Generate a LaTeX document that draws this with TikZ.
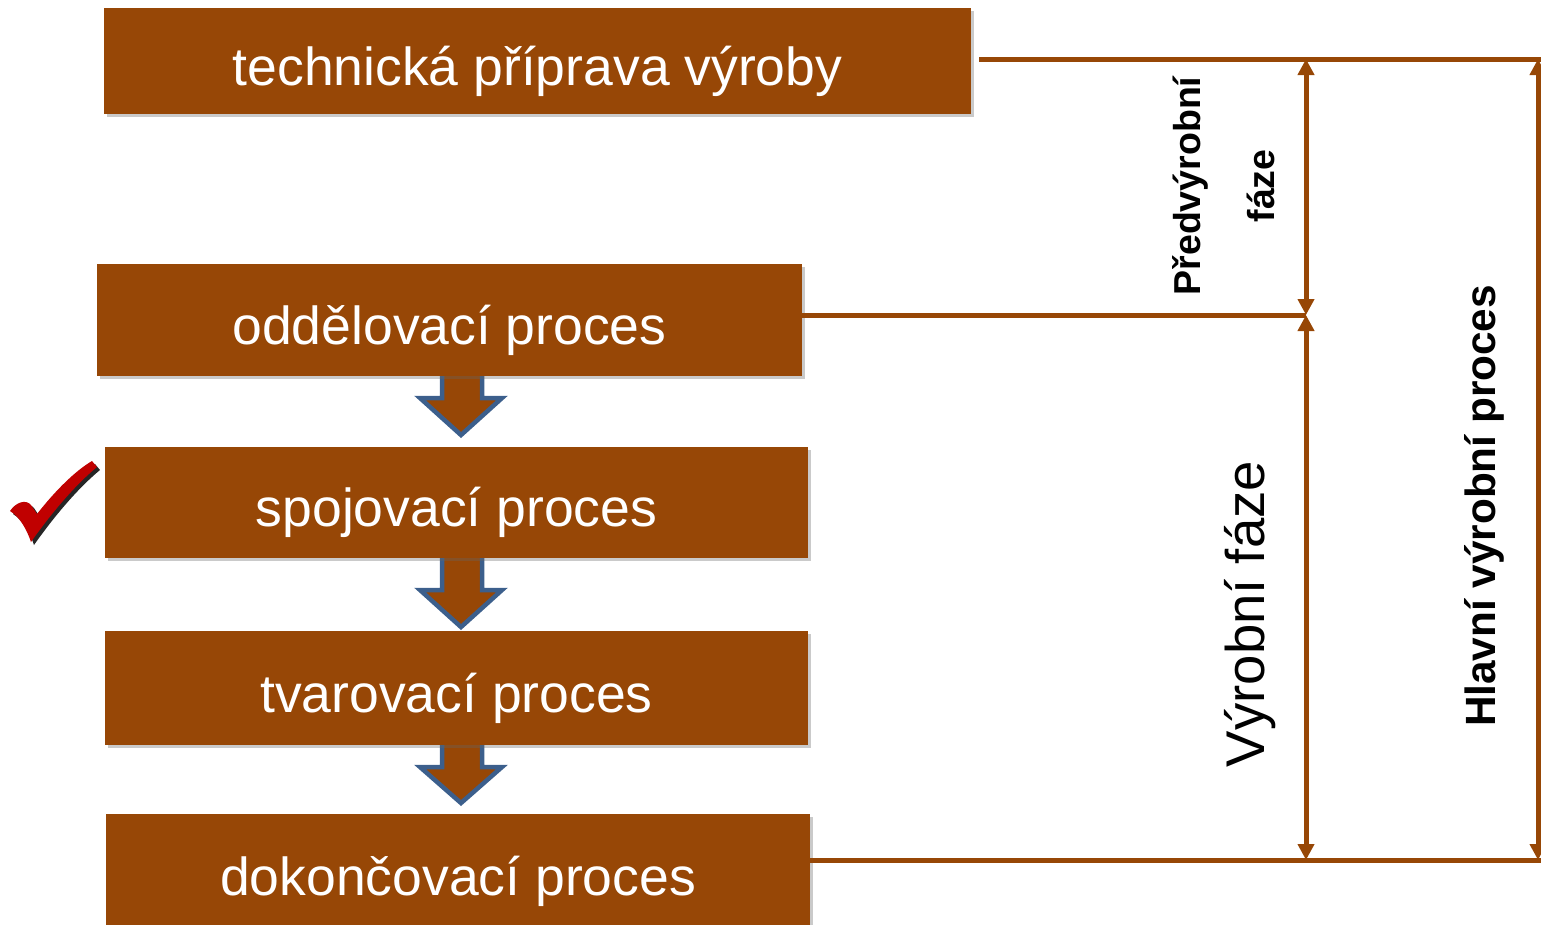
\documentclass[tikz,border=0pt]{standalone}
\usepackage{fontspec}
\setmainfont{Liberation Sans}
\usetikzlibrary{arrows.meta,shadows,calc}
\definecolor{boxbrown}{RGB}{151,71,6}
\definecolor{arrowblue}{RGB}{60,95,140}
\definecolor{checkred}{RGB}{192,0,0}
\tikzset{
  procbox/.style={fill=boxbrown, draw=none, text=white, font=\fontsize{53.5}{60}\selectfont, inner sep=0pt,
    text height=48pt, text depth=0pt,
    drop shadow={shadow xshift=3pt, shadow yshift=-3pt, opacity=0.35, fill=black!60}},
  dimline/.style={draw=boxbrown, line width=5pt},
  dimarrow/.style={dimline, {Triangle[width=16pt,length=16pt]}-{Triangle[width=16pt,length=16pt]}},
  blockarrow/.style={fill=boxbrown, draw=arrowblue, line width=4.5pt, line join=miter},
  sidelabel/.style={text=black, rotate=90, inner sep=0pt, align=center},
}
\begin{document}
\begin{tikzpicture}[x=1pt,y=-1pt]
\useasboundingbox (0,0) rectangle (1541,924);

% block arrows (drawn first, tops hidden under boxes)
\filldraw[blockarrow] (442,370) -- (442,398) -- (420,398) -- (461,435) -- (502,398) -- (482,398) -- (482,370);
\filldraw[blockarrow] (442,552) -- (442,590) -- (420,590) -- (461,627) -- (502,590) -- (482,590) -- (482,552);
\filldraw[blockarrow] (442,739) -- (442,767) -- (420,767) -- (461,803) -- (502,767) -- (482,767) -- (482,739);

% process boxes
\node[procbox, minimum width=867pt, minimum height=106pt] (b1) at (537.5,61) {technická příprava výroby};
\node[procbox, minimum width=705pt, minimum height=112pt] (b2) at (449.5,320) {oddělovací proces};
\node[procbox, minimum width=703pt, minimum height=111pt] (b3) at (456.5,502.5) {spojovací proces};
\node[procbox, minimum width=703pt, minimum height=114pt] (b4) at (456.5,688) {tvarovací proces};
\node[procbox, minimum width=704pt, minimum height=114pt] (b5) at (458,871) {dokončovací proces};

% check mark
\fill[black, opacity=0.85] ([shift={(3,3)}]10,511) .. controls ([shift={(3,3)}]16,502) and ([shift={(3,3)}]26,499) .. ([shift={(3,3)}]31,505) -- ([shift={(3,3)}]37,514) .. controls ([shift={(3,3)}]55,491) and ([shift={(3,3)}]75,471) .. ([shift={(3,3)}]92,461) -- ([shift={(3,3)}]97,467) .. controls ([shift={(3,3)}]74,486) and ([shift={(3,3)}]50,515) .. ([shift={(3,3)}]31,542) .. controls ([shift={(3,3)}]27,530) and ([shift={(3,3)}]20,517) .. ([shift={(3,3)}]10,511) -- cycle;
\fill[checkred] (10,511) .. controls (16,502) and (26,499) .. (31,505) -- (37,514) .. controls (55,491) and (75,471) .. (92,461) -- (97,467) .. controls (74,486) and (50,515) .. (31,542) .. controls (27,530) and (20,517) .. (10,511) -- cycle;

% dimension coordinates
\coordinate (pa) at (1306,59);
\coordinate (pb) at (1306,315);
\coordinate (pc) at (1306,860);
\coordinate (qa) at (1538,59);
\coordinate (qc) at (1538,860);
\coordinate (ea) at (1541,59);
\coordinate (ec) at (1541,860);

\draw[dimline] ([xshift=8pt,yshift=2pt]b1.east) -- (ea);
\draw[dimline] ([yshift=5pt]b2.east) -- (pb);
\draw[dimline] ([yshift=11pt]b5.east) -- (ec);

\draw[dimarrow] (pa) -- (pb);
\draw[dimarrow] (pb) -- (pc);
\draw[dimarrow] (qa) -- (qc);

% side labels
\node[sidelabel, font=\bfseries\fontsize{37.5}{74}\selectfont] (pre) at (1224,186) {Předvýrobní\\fáze};
\node[sidelabel, font=\fontsize{54.5}{60}\selectfont] (vyr) at (1250,614) {Výrobní fáze};
\node[sidelabel, font=\bfseries\fontsize{42.3}{50}\selectfont] (hl) at (1484,506) {Hlavní výrobní proces};
\end{tikzpicture}
\end{document}
